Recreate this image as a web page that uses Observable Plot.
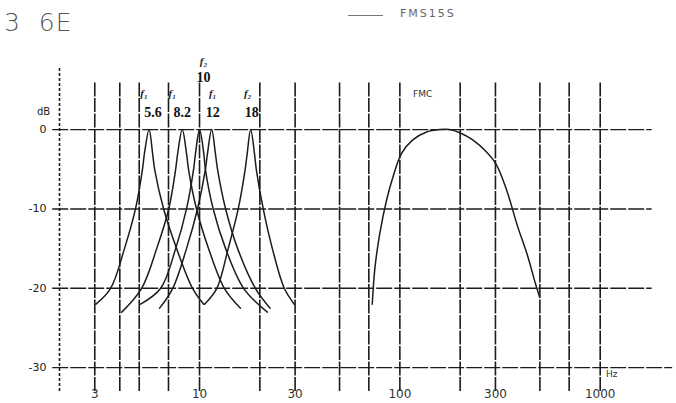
<!DOCTYPE html>
<html>
<head>
<meta charset="utf-8">
<script src="https://cdn.jsdelivr.net/npm/d3@7"></script>
<script src="https://cdn.jsdelivr.net/npm/@observablehq/plot@0.6"></script>
<style>
  body { margin: 0; background: #fff; }
  #wrap { position: relative; width: 676px; height: 403px; overflow: hidden; background: #fff; }
  .ov { position: absolute; font-family: "DejaVu Sans", sans-serif; color: #333; white-space: nowrap; }
</style>
</head>
<body>
<div id="wrap">
  <div id="chart"></div>
  <div class="ov" style="left:4px;top:8px;font-size:25px;color:#555;font-weight:300;letter-spacing:1px;">3&nbsp;&nbsp;6E</div>
  <div class="ov" style="left:348px;top:15px;width:35px;height:0;border-top:1.3px solid #777;"></div>
  <div class="ov" style="left:400px;top:7px;font-size:11px;color:#666;letter-spacing:2px;">FMS15S</div>
  <div class="ov" style="left:37px;top:106px;font-size:10px;color:#222;">dB</div>
  <div class="ov" style="left:413px;top:89px;font-size:9px;color:#333;">FMC</div>
  <div class="ov" style="left:606px;top:369px;font-size:9px;color:#333;">Hz</div>
</div>
<script>
// ---- data ----
const gridFreqs = [3, 4, 5, 7, 10, 20, 30, 50, 70, 100, 200, 300, 500, 700, 1000];
const dbGrid = [0, -10, -20];
const xTickValues = [3, 10, 30, 100, 300, 1000];
const xTickLabels = ["3", "10", "30", "100", "300", "1000"];
const yTickValues = [0, -10, -20, -30];
const yTickLabels = ["0", "-10", "-20", "-30"];

const peakFreqs = [5.6, 8.2, 10, 11.5, 18];
const peakLabels = ["5.6", "8.2", "10", "12", "18"];
const peakTags = ["f\u2081", "f\u2081", "f\u2082", "f\u2081", "f\u2082"];

const f56 = [3.04, 3.60, 4.22, 4.79, 5.19, 5.31, 5.6, 5.83, 5.97, 6.62, 7.69, 9.23, 10.5];
const db56 = [-22, -20, -15, -10, -5, -3, 0, -3, -5, -10, -15, -20, -22];
const f82 = [4.09, 5.14, 6.11, 7.02, 7.60, 7.78, 8.2, 8.61, 8.81, 9.66, 11.1, 13.3, 16.0];
const db82 = [-23, -20, -15, -10, -5, -3, 0, -3, -5, -10, -15, -20, -22.5];
const f10 = [5.08, 6.40, 7.60, 8.61, 9.34, 9.55, 10, 10.5, 10.7, 11.7, 13.5, 16.6, 21.8];
const db10 = [-22, -20, -15, -10, -5, -3, 0, -3, -5, -10, -15, -20, -23];
const f12 = [6.32, 7.35, 8.61, 9.77, 10.7, 10.96, 11.5, 12.0, 12.3, 13.5, 15.5, 19.0, 22.5];
const db12 = [-22.5, -20, -15, -10, -5, -3, 0, -3, -5, -10, -15, -20, -22.5];
const f18 = [10.6, 12.2, 13.9, 15.6, 16.9, 17.3, 18, 18.8, 19.2, 20.8, 23.1, 26.5, 29.7];
const db18 = [-22, -20, -15, -10, -5, -3, 0, -3, -5, -10, -15, -20, -22];

const fFMC = [72.8, 75.1, 79.4, 85.8, 92.3, 102, 116, 136, 158, 177, 199, 231, 270, 303, 341, 386, 434, 475, 497];
const dbFMC = [-22, -17.4, -13.1, -8.9, -6, -3, -1.3, -0.3, 0, 0, -0.4, -1.3, -2.8, -4.4, -7.6, -12.1, -15.9, -19.4, -21];

// ---- build tables ----
const filters = [[f56, db56], [f82, db82], [f10, db10], [f12, db12], [f18, db18]];
const narrow = filters.flatMap(([fs, ds], i) => fs.map((f, j) => ({f, db: ds[j], id: i})));
const fmc = fFMC.map((f, j) => ({f, db: dbFMC[j]}));
const peaks = peakFreqs.map((f, i) => ({f, label: peakLabels[i], tag: peakTags[i]}));
const xTicks = xTickValues.map((v, i) => ({v, t: xTickLabels[i]}));
const yTicks = yTickValues.map((v, i) => ({v, t: yTickLabels[i]}));

const ink = "#1c1c1c";
const gridStyle = {stroke: ink, strokeWidth: 1.6, strokeDasharray: "14,1.5"};
const labelShift = {"5.6": 4, "8.2": 0, "10": 4, "12": 1, "18": 1};
const tagShift = {"5.6": -5, "8.2": -10, "10": 4, "12": 1, "18": -3};

const chart = Plot.plot({
  width: 676,
  height: 403,
  marginLeft: 59,
  marginRight: 16,
  marginTop: 68,
  marginBottom: 16,
  style: {background: "transparent", overflow: "visible"},
  x: {type: "log", domain: [2, 2000], axis: null},
  y: {domain: [-32.5, 7.7], axis: null},
  marks: [
    Plot.ruleX([2], {y1: -33, y2: 7.8, stroke: ink, strokeWidth: 1.6, strokeDasharray: "3,2"}),
    Plot.ruleX(gridFreqs, {y1: -33, y2: 6, ...gridStyle}),
    Plot.ruleY(dbGrid, {x1: 1.85, x2: 1816, stroke: ink, strokeWidth: 1.4, strokeDasharray: "16,2"}),
    Plot.ruleY([-30], {x1: 1.85, x2: 2300, stroke: ink, strokeWidth: 1.4, strokeDasharray: "16,2"}),
    Plot.line(narrow, {x: "f", y: "db", z: "id", stroke: ink, strokeWidth: 1.5, curve: "catmull-rom"}),
    Plot.line(fmc, {x: "f", y: "db", stroke: ink, strokeWidth: 1.5, curve: "catmull-rom"}),
    Plot.text(xTicks, {x: "v", y: () => -32.5, text: "t", dy: 7, fontSize: 12, fill: "#333", fontFamily: "DejaVu Sans"}),
    Plot.text(yTicks, {x: () => 2, y: "v", text: "t", dx: -13, textAnchor: "end", fontSize: 11, fill: "#222", fontFamily: "DejaVu Sans"}),
    ...peaks.map(p => Plot.text([p], {x: "f", y: p.label === "10" ? 6.6 : 2.1, text: "label", dx: labelShift[p.label],
      fontSize: 14, fill: "#111", fontFamily: "Liberation Serif", fontWeight: "bold"})),
    ...peaks.map(p => Plot.text([p], {x: "f", y: p.label === "10" ? 8.6 : 4.6, text: "tag", dx: tagShift[p.label],
      fontSize: 11, fill: "#222", fontFamily: "Liberation Serif", fontStyle: "italic", fontWeight: "bold"}))
  ]
});
document.getElementById("chart").appendChild(chart);
</script>
</body>
</html>
